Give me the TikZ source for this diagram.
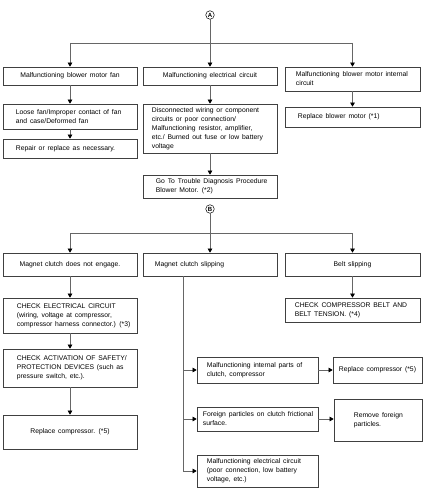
\documentclass[tikz,border=0pt]{standalone}
\usepackage{fontspec}
\setmainfont[WordSpace=1.5]{Liberation Sans}
\usetikzlibrary{arrows.meta}
\tikzset{
 box/.style={draw=black!75, line width=0.65pt, inner sep=0pt},
 txt/.style={font=\fontsize{6.8}{9}\selectfont, align=left, inner sep=0pt},
 ctxt/.style={txt, align=center},
 ln/.style={draw=black!60, line width=0.6pt},
 arr/.style={ln, -{Triangle[length=4pt,width=4.5pt,color=black]}},
 circ/.style={circle, draw=black, line width=0.5pt, inner sep=0.4pt, font=\bfseries\fontsize{6}{6}\selectfont, minimum size=8.5pt}
}
\newcommand\bx[5]{\node[box, minimum width={(#4-#2)*1pt}, minimum height={(#5-#3)*1pt}] (#1) at ({(#2+#4)/2},{(#3+#5)/2}) {};}
\newcommand\myL[3][11]{\node[txt, anchor=west] at ([xshift=#1pt]#2.west) {#3};}
\newcommand\myC[2]{\node[ctxt] at (#1) {#2};}
\begin{document}
\begin{tikzpicture}[x=1pt,y=-1pt]
\useasboundingbox[fill=white] (0,0) rectangle (432,502);
% ---- section A ----
\node[circ] (A) at (210,15) {A};
\coordinate (ja) at (210,43);
\bx{m1}{3}{67}{137}{85}
\bx{m2}{143}{67}{277}{85}
\bx{m3}{285}{67}{420}{91}
\bx{lf}{3}{104}{137}{129}
\bx{rp}{3}{139}{137}{158}
\bx{dw}{143}{104}{277}{153}
\bx{gt}{143}{175}{277}{198}
\bx{rb}{285}{107}{420}{127}
\myC{m1}{Malfunctioning blower motor fan}
\myC{m2}{Malfunctioning electrical circuit}
\myL{m3}{Malfunctioning blower motor internal\\circuit}
\myL[13]{lf}{Loose fan/Improper contact of fan\\and case/Deformed fan}
\myL[13]{rp}{Repair or replace as necessary.}
\myL[9]{dw}{Disconnected wiring or component\\circuits or poor connection/\\Malfunctioning resistor, amplifier,\\etc./ Burned out fuse or low battery\\voltage}
\myL[13]{gt}{Go To Trouble Diagnosis Procedure\\Blower Motor. (*2)}
\myL[13]{rb}{Replace blower motor (*1)}
\draw[arr] (A) -- (m2);
\draw[ln] (ja -| m1.north) -- (ja -| m3.north);
\draw[arr] (ja -| m1.north) -- (m1.north);
\draw[arr] (ja -| m3.north) -- (m3.north);
\draw[arr] (m1) -- (lf);
\draw[arr] (lf) -- (rp);
\draw[arr] (m2) -- (dw);
\draw[arr] (dw) -- (gt);
\draw[arr] (m3) -- (rb);
% ---- section B ----
\node[circ] (B) at (210,209) {B};
\coordinate (jb) at (210,233);
\bx{n1}{3}{253}{137}{276}
\bx{n2}{143}{253}{277}{276}
\bx{n3}{285}{253}{420}{276}
\bx{ce}{3}{298}{137}{333}
\bx{ca}{3}{349}{137}{387}
\bx{rc}{3}{415}{137}{449}
\bx{cb}{285}{298}{420}{322}
\bx{ip}{197}{357}{318}{383}
\bx{rc2}{333}{357}{422}{383}
\bx{fp}{197}{407}{318}{431}
\bx{rf}{334}{399}{422}{441}
\bx{me}{197}{455}{318}{487}
\myC{n1}{Magnet clutch does not engage.}
\myL[12]{n2}{Magnet clutch slipping}
\myC{n3}{Belt slipping}
\myL[14]{ce}{CHECK ELECTRICAL CIRCUIT\\(wiring, voltage at compressor,\\compressor harness connector.) (*3)}
\myL[14]{ca}{CHECK ACTIVATION OF SAFETY/\\PROTECTION DEVICES (such as\\pressure switch, etc.).}
\myC{rc}{Replace compressor. (*5)}
\myL[10]{cb}{CHECK COMPRESSOR BELT AND\\BELT TENSION. (*4)}
\myL[10]{ip}{Malfunctioning internal parts of\\clutch, compressor}
\myC{rc2}{Replace compressor (*5)}
\myL[6]{fp}{Foreign particles on clutch frictional\\surface.}
\myL[20]{rf}{Remove foreign\\particles.}
\myL[10]{me}{Malfunctioning electrical circuit\\(poor connection, low battery\\voltage, etc.)}
\draw[arr] (B) -- (n2);
\draw[ln] (jb -| n1.north) -- (jb -| n3.north);
\draw[arr] (jb -| n1.north) -- (n1.north);
\draw[arr] (jb -| n3.north) -- (n3.north);
\draw[arr] (n1) -- (ce);
\draw[arr] (ce) -- (ca);
\draw[arr] (ca) -- (rc);
\draw[arr] (n3) -- (cb);
\coordinate (t0) at (183,276);
\coordinate (t3) at (183,471);
\draw[ln] (t0) -- (t3);
\draw[arr] (t0 |- ip.west) -- (ip.west);
\draw[arr] (t0 |- fp.west) -- (fp.west);
\draw[arr] (t3) -- (me.west);
\draw[arr] (ip) -- (rc2);
\draw[arr] (fp.east) -- (fp.east -| rf.west);
\end{tikzpicture}
\end{document}
